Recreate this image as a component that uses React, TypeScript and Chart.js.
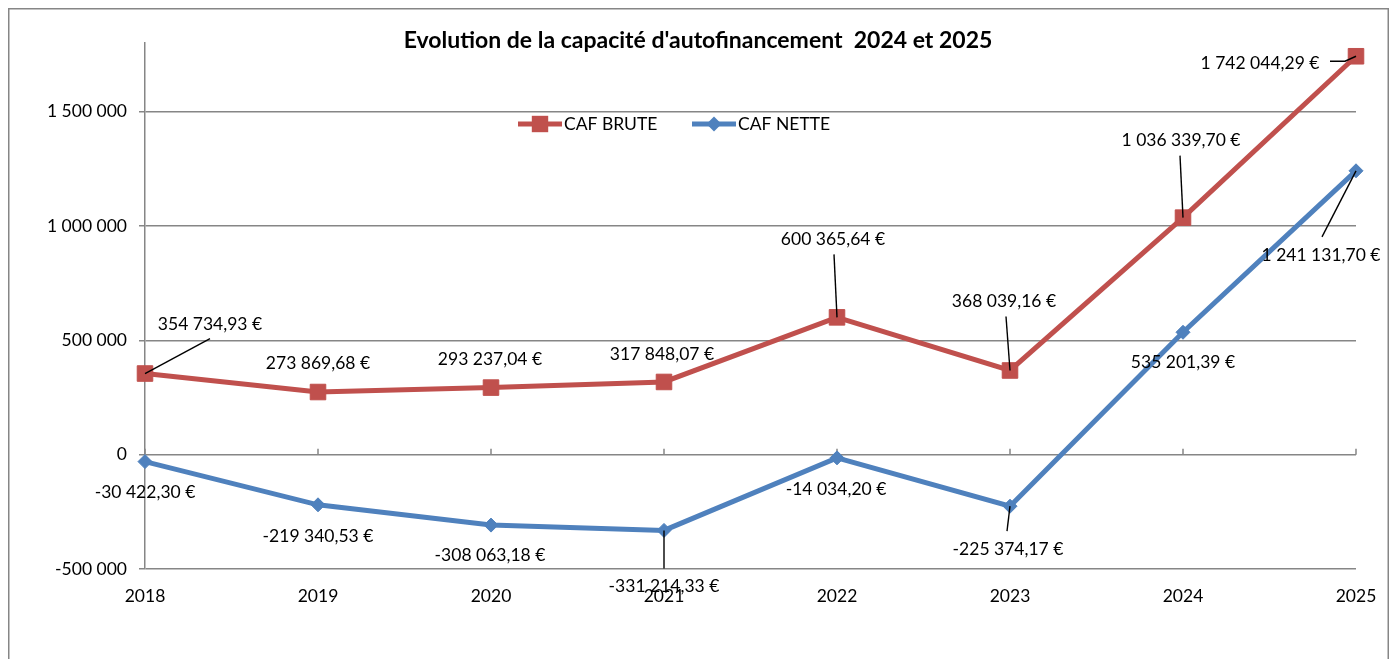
import React, { useEffect, useRef } from "react";
import { Chart, registerables } from "chart.js";

Chart.register(...registerables);

// ---------- data ----------
const years = ["2018", "2019", "2020", "2021", "2022", "2023", "2024", "2025"];
const cafBrute = [354734.93, 273869.68, 293237.04, 317848.07, 600365.64, 368039.16, 1036339.7, 1742044.29];
const cafNette = [-30422.3, -219340.53, -308063.18, -331214.33, -14034.2, -225374.17, 535201.39, 1241131.7];
const yTickValues = [-500000, 0, 500000, 1000000, 1500000];
const yMin = -500000;
const yMax = 1800000;
const seriesNames = ["CAF BRUTE", "CAF NETTE"];
const chartTitle = "Evolution de la capacité d'autofinancement  2024 et 2025";

// ---------- label placement (pixel offsets relative to each point) ----------
const bruteLabelOffsets = [[65, -49], [0, -29], [-1, -28], [-2, -28], [-4, -78], [-6, -69], [-2, -77], [-96, 7]];
const bruteLeaders = [[[65, -35]], null, null, null, [[-3, -63]], [[-4, -54]], [[-3, -62]], [[-26, 5], [-11, 5]]];
const netteLabelOffsets = [[0, 31], [0, 32], [-1, 30], [0, 56], [-1, 31], [-2, 43], [0, 30], [-35, 85]];
const netteLeaders = [null, null, null, [[0, 38]], null, [[-3, 25]], null, [[-34, 66]]];

// ---------- styles ----------
const RED = "#C0504D";
const BLUE = "#4F81BD";
const GRID = "#868686";
const FONT = "Lato, 'Open Sans', sans-serif";
const FONT_SIZE = 17.5;
const W = 1381;
const H = 670;

function groupThousands(s: string) {
  return s.replace(/\B(?=(\d{3})+(?!\d))/g, " ");
}
function fmtEuro(v: number) {
  const neg = v < 0;
  const [i, d] = Math.abs(v).toFixed(2).split(".");
  return (neg ? "-" : "") + groupThousands(i) + "," + d + " €";
}
function fmtTick(v: number) {
  return (v < 0 ? "-" : "") + groupThousands(String(Math.abs(v)));
}

function drawMarker(ctx: CanvasRenderingContext2D, style: string, x: number, y: number, color: string) {
  ctx.save();
  ctx.fillStyle = color;
  ctx.beginPath();
  if (style === "rect") {
    ctx.rect(x - 8.2, y - 8.2, 16.4, 16.4);
  } else {
    ctx.moveTo(x - 7.5, y);
    ctx.lineTo(x, y - 7.5);
    ctx.lineTo(x + 7.5, y);
    ctx.lineTo(x, y + 7.5);
    ctx.closePath();
  }
  ctx.fill();
  ctx.restore();
}

const overlayPlugin = {
  id: "overlay",
  beforeDraw(chart: any) {
    const ctx = chart.ctx;
    ctx.save();
    ctx.fillStyle = "#ffffff";
    ctx.fillRect(0, 0, chart.width, chart.height);
    ctx.restore();
  },
  beforeDatasetsDraw(chart: any) {
    // small tick marks on the zero line
    const ctx = chart.ctx;
    const xs = chart.scales.x;
    const y0 = chart.scales.y.getPixelForValue(0);
    ctx.save();
    ctx.strokeStyle = GRID;
    ctx.lineWidth = 1.5;
    years.forEach((_, i) => {
      const x = xs.getPixelForValue(i);
      ctx.beginPath();
      ctx.moveTo(x, y0);
      ctx.lineTo(x, y0 - 6);
      ctx.stroke();
    });
    ctx.restore();
  },
  afterDatasetsDraw(chart: any) {
    const ctx = chart.ctx;
    const sets = [
      { values: cafBrute, offsets: bruteLabelOffsets, leaders: bruteLeaders, meta: chart.getDatasetMeta(0) },
      { values: cafNette, offsets: netteLabelOffsets, leaders: netteLeaders, meta: chart.getDatasetMeta(1) },
    ];
    ctx.save();
    sets.forEach((s) => {
      s.values.forEach((v, i) => {
        const el = s.meta.data[i];
        const px = el.x;
        const py = el.y;
        const lead = s.leaders[i];
        if (lead) {
          ctx.strokeStyle = "#000";
          ctx.lineWidth = 1.4;
          ctx.beginPath();
          ctx.moveTo(px + lead[0][0], py + lead[0][1]);
          for (let k = 1; k < lead.length; k++) ctx.lineTo(px + lead[k][0], py + lead[k][1]);
          ctx.lineTo(px, py);
          ctx.stroke();
        }
      });
    });
    ctx.fillStyle = "#000";
    ctx.font = `${FONT_SIZE}px ${FONT}`;
    ctx.textAlign = "center";
    ctx.textBaseline = "middle";
    sets.forEach((s) => {
      s.values.forEach((v, i) => {
        const el = s.meta.data[i];
        const o = s.offsets[i];
        ctx.fillText(fmtEuro(v), el.x + o[0], el.y + o[1]);
      });
    });
    ctx.restore();
  },
  afterDraw(chart: any) {
    const ctx = chart.ctx;
    ctx.save();
    // title
    ctx.fillStyle = "#000";
    ctx.font = `bold 23px ${FONT}`;
    ctx.textAlign = "center";
    ctx.textBaseline = "middle";
    ctx.fillText(chartTitle, 690, 33);
    // legend
    const items = [
      { name: seriesNames[0], color: RED, style: "rect", x0: 510 },
      { name: seriesNames[1], color: BLUE, style: "rectRot", x0: 684 },
    ];
    const ly = 116;
    items.forEach((it) => {
      ctx.strokeStyle = it.color;
      ctx.lineWidth = 5;
      ctx.beginPath();
      ctx.moveTo(it.x0, ly);
      ctx.lineTo(it.x0 + 44, ly);
      ctx.stroke();
      drawMarker(ctx, it.style, it.x0 + 22, ly, it.color);
      ctx.fillStyle = "#000";
      ctx.font = `${FONT_SIZE}px ${FONT}`;
      ctx.textAlign = "left";
      ctx.textBaseline = "middle";
      ctx.fillText(it.name, it.x0 + 46, ly);
    });
    // outer border
    ctx.strokeStyle = GRID;
    ctx.lineWidth = 1.5;
    ctx.strokeRect(0.75, 0.75, chart.width - 1.5, chart.height + 20);
    ctx.restore();
  },
};

export default function App() {
  const ref = useRef<HTMLCanvasElement | null>(null);
  useEffect(() => {
    if (!ref.current) return;
    const chart = new Chart(ref.current, {
      type: "line",
      data: {
        labels: years,
        datasets: [
          {
            label: seriesNames[0],
            data: cafBrute,
            borderColor: RED,
            backgroundColor: RED,
            borderWidth: 5,
            pointStyle: "rect",
            pointRadius: 11,
            pointBorderWidth: 1,
            pointBackgroundColor: RED,
            pointBorderColor: RED,
            tension: 0,
          },
          {
            label: seriesNames[1],
            data: cafNette,
            borderColor: BLUE,
            backgroundColor: BLUE,
            borderWidth: 5,
            pointStyle: "rectRot",
            pointRadius: 7,
            pointBorderWidth: 1,
            pointBackgroundColor: BLUE,
            pointBorderColor: BLUE,
            tension: 0,
          },
        ],
      },
      options: {
        responsive: false,
        animation: false,
        layout: { padding: { left: 0, right: 33, top: 35, bottom: 0 } },
        plugins: {
          legend: { display: false },
          title: { display: false },
          tooltip: { enabled: false },
        },
        scales: {
          x: {
            type: "category",
            offset: false,
            grid: { display: false, drawTicks: false },
            border: { display: false },
            ticks: {
              color: "#000",
              font: { family: FONT, size: FONT_SIZE },
              padding: 17,
              maxRotation: 0,
              autoSkip: false,
            },
            afterFit: (s: any) => {
              s.height = H - 561;
              s.paddingLeft = 0;
              s.paddingRight = 0;
            },
          },
          y: {
            type: "linear",
            min: yMin,
            max: yMax,
            afterBuildTicks: (s: any) => {
              s.ticks = yTickValues.map((v) => ({ value: v }));
            },
            grid: { color: GRID, lineWidth: 1.5, tickLength: 6, drawTicks: true, tickColor: GRID },
            border: { display: true, color: GRID, width: 1.5 },
            ticks: {
              color: "#000",
              font: { family: FONT, size: FONT_SIZE },
              padding: 12,
              callback: (v: any) => fmtTick(Number(v)),
            },
            afterFit: (s: any) => {
              s.width = 137;
              s.paddingTop = 0;
              s.paddingBottom = 0;
            },
          },
        },
      },
      plugins: [overlayPlugin],
    } as any);
    return () => chart.destroy();
  }, []);
  return (
    <div style={{ width: W, height: H }}>
      <canvas ref={ref} width={W} height={H} style={{ display: "block" }} />
    </div>
  );
}
